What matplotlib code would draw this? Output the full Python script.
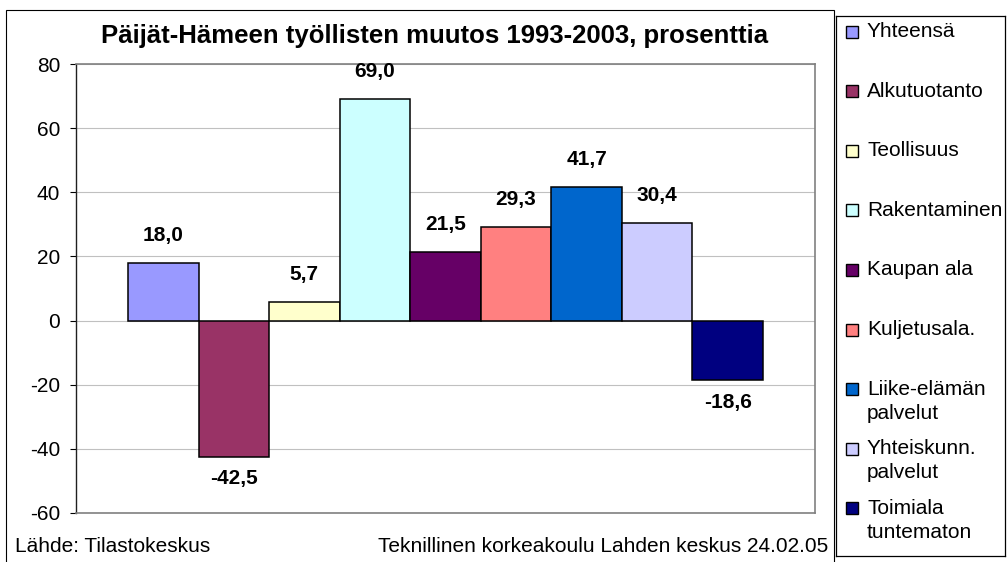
import matplotlib
matplotlib.use("Agg")
import matplotlib.pyplot as plt
from matplotlib.patches import Rectangle

plt.rcParams["font.family"] = ["Liberation Sans", "DejaVu Sans"]

# data
categories = ["Yhteensä", "Alkutuotanto", "Teollisuus", "Rakentaminen", "Kaupan ala",
              "Kuljetusala.", "Liike-elämän\npalvelut", "Yhteiskunn.\npalvelut",
              "Toimiala\ntuntematon"]
values = [18.0, -42.5, 5.7, 69.0, 21.5, 29.3, 41.7, 30.4, -18.6]
colors = ["#9999FF", "#993366", "#FFFFCC", "#CCFFFF", "#660066",
          "#FF8080", "#0066CC", "#CCCCFF", "#000080"]
yticks = [-60, -40, -20, 0, 20, 40, 60, 80]

title = "Päijät-Hämeen työllisten muutos 1993-2003, prosenttia"
source = "Lähde: Tilastokeskus"
credit = "Teknillinen korkeakoulu Lahden keskus 24.02.05"

W, H = 1008, 562
fig = plt.figure(figsize=(W / 100, H / 100), dpi=100)

def fx(px):
    return px / W

def fy(py):
    return 1 - py / H

# outer chart frame
fig.patches.append(Rectangle((fx(6), fy(575)), fx(834) - fx(6), fy(10) - fy(575),
                             transform=fig.transFigure, fill=False,
                             edgecolor="black", lw=0.8, clip_on=False))

ax = fig.add_axes([fx(76), fy(513), fx(815) - fx(76), fy(64) - fy(513)])
x = list(range(len(values)))
ax.bar(x, values, width=1.0, color=colors, edgecolor="black", linewidth=1.1, zorder=3)
pad = 0.737
ax.set_xlim(-0.5 - pad, len(values) - 0.5 + pad)
ax.set_ylim(-60, 80)
ax.set_yticks(yticks)
ax.set_yticklabels([str(t) for t in yticks], fontsize=15)
ax.set_xticks([])
ax.tick_params(axis="y", direction="out", length=4.5, width=0.8, pad=7, colors="black")
ax.yaxis.grid(True, color="#C0C0C0", lw=0.8, zorder=0)
ax.set_axisbelow(True)
for s in ["top", "right", "bottom"]:
    ax.spines[s].set_color("#808080")
    ax.spines[s].set_linewidth(1.2)
ax.spines["left"].set_color("#202020")
ax.spines["left"].set_linewidth(1.0)

for xi, v in zip(x, values):
    lab = f"{v:.1f}".replace(".", ",")
    if v >= 0:
        ax.annotate(lab, (xi, v), xytext=(0, 13), textcoords="offset points",
                    ha="center", va="bottom", fontsize=15, fontweight="bold")
    else:
        ax.annotate(lab, (xi, v), xytext=(0, -9), textcoords="offset points",
                    ha="center", va="top", fontsize=15, fontweight="bold")

fig.text(fx(435), fy(36), title, ha="center", va="center", fontsize=18.5, fontweight="bold")
fig.text(fx(15), fy(547), source, ha="left", va="center", fontsize=15)
fig.text(fx(828), fy(547), credit, ha="right", va="center", fontsize=15)

# legend box
lx0, ly0, lx1, ly1 = 836, 16, 1005, 556
lax = fig.add_axes([fx(lx0), fy(ly1), fx(lx1) - fx(lx0), fy(ly0) - fy(ly1)])
lax.set_xlim(0, lx1 - lx0)
lax.set_ylim(ly1 - ly0, 0)
lax.set_xticks([])
lax.set_yticks([])
for s in lax.spines.values():
    s.set_color("black")
    s.set_linewidth(0.9)
step = 59.6
for i, (name, c) in enumerate(zip(categories, colors)):
    yc = 14 + i * step
    base = yc + 7.5
    lax.add_patch(Rectangle((10, base - 12), 12, 12, facecolor=c, edgecolor="black", lw=1.0))
    lax.text(31, yc - 8, name, ha="left", va="top", fontsize=15, linespacing=1.35)

fig.savefig("out.png", dpi=100)
